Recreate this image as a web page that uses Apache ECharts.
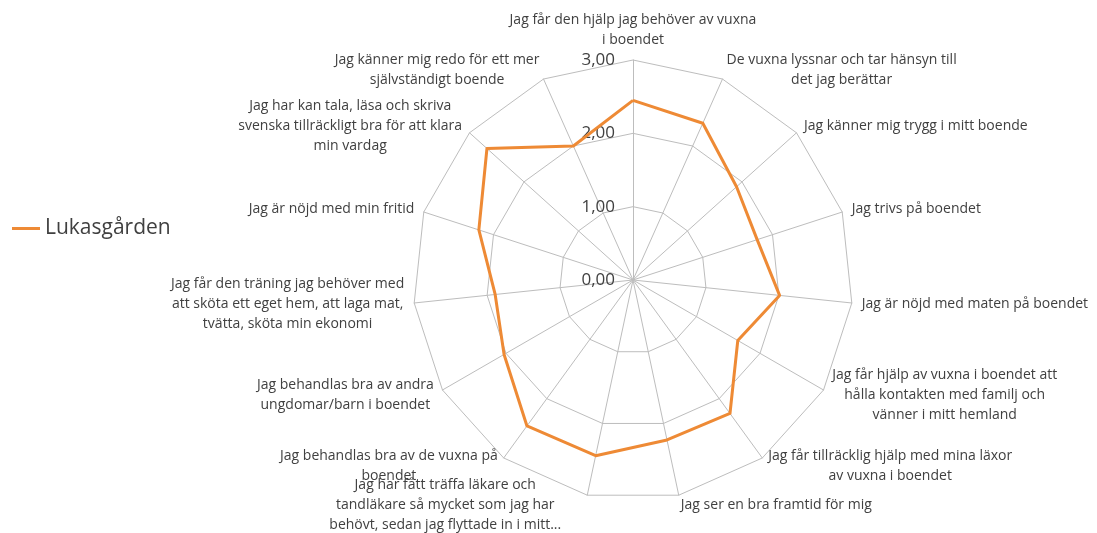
<!DOCTYPE html>
<html><head><meta charset="utf-8">
<script src="https://cdn.jsdelivr.net/npm/echarts@6/dist/echarts.min.js"></script>
<style>html,body{margin:0;padding:0;background:#fff}#c{width:1097px;height:533px}</style>
</head><body><div id="c"></div>
<script>
// Categories in clockwise order starting at the top
const categories = [
  "Jag får den hjälp jag behöver av vuxna\ni boendet",
  "De vuxna lyssnar och tar hänsyn till\ndet jag berättar",
  "Jag känner mig trygg i mitt boende",
  "Jag trivs på boendet",
  "Jag är nöjd med maten på boendet",
  "Jag får hjälp av vuxna i boendet att\nhålla kontakten med familj och\nvänner i mitt hemland",
  "Jag får tillräcklig hjälp med mina läxor\nav vuxna i boendet",
  "Jag ser en bra framtid för mig",
  "Jag har fått träffa läkare och\ntandläkare så mycket som jag har\nbehövt, sedan jag flyttade in i mitt...",
  "Jag behandlas bra av de vuxna på\nboendet",
  "Jag behandlas bra av andra\nungdomar/barn i boendet",
  "Jag får den träning jag behöver med\natt sköta ett eget hem, att laga mat,\ntvätta, sköta min ekonomi",
  "Jag är nöjd med min fritid",
  "Jag har kan tala, läsa och skriva\nsvenska tillräckligt bra för att klara\nmin vardag",
  "Jag känner mig redo för ett mer\nsjälvständigt boende"
];
const seriesName = "Lukasgården";
const values = [2.45, 2.34, 1.90, 1.78, 2.01, 1.65, 2.25, 2.23, 2.45, 2.46, 2.03, 1.89, 2.21, 2.68, 2.00];
const tickLabels = ["0,00", "1,00", "2,00", "3,00"];
const axisMin = 0;
const axisMax = 3;

// ECharts radar runs counter-clockwise; reorder so the chart reads clockwise
const order = [0];
for (let i = categories.length - 1; i >= 1; i--) order.push(i);

const textColor = '#404040';
const gridColor = '#bdbdbd';
const FONT = 'Open Sans';

const indicator = order.map((idx, j) => {
  const ind = { name: categories[idx], min: axisMin, max: axisMax };
  if (j === 0) {
    ind.axisLabel = {
      show: true,
      margin: 18,
      fontFamily: FONT,
      fontSize: 17,
      color: textColor,
      formatter: (v) => tickLabels[Math.round(v)]
    };
  }
  return ind;
});

// the label of the 9th category sits further left in the original
const shiftedName = categories[8];

const chart = echarts.init(document.getElementById('c'), null, { renderer: 'canvas' });
chart.setOption({
  backgroundColor: '#ffffff',
  animation: false,
  legend: {
    left: 7,
    top: 213,
    orient: 'vertical',
    icon: 'rect',
    itemWidth: 28,
    itemHeight: 3,
    textStyle: { fontFamily: FONT, fontSize: 21, color: textColor },
    data: [seriesName]
  },
  radar: {
    center: [633, 280],
    radius: 220,
    startAngle: 90,
    shape: 'polygon',
    splitNumber: 3,
    nameGap: 10,
    axisName: {
      color: textColor,
      fontFamily: FONT,
      fontSize: 14,
      lineHeight: 20,
      formatter: (name) => name.split('\n').map(l => '{c|' + l + '}' + (name === shiftedName ? '{sp|}' : '')).join('\n'),
      rich: {
        c: { align: 'center', fontFamily: FONT, fontSize: 14, lineHeight: 20, color: textColor },
        sp: { align: 'right', width: 24, lineHeight: 20 }
      }
    },
    axisLine: { lineStyle: { color: gridColor, width: 1 } },
    splitLine: { lineStyle: { color: gridColor, width: 1 } },
    splitArea: { show: false },
    axisTick: { show: false },
    axisLabel: { show: false },
    indicator: indicator
  },
  series: [{
    type: 'radar',
    name: seriesName,
    symbol: 'none',
    lineStyle: { color: '#ee8a35', width: 3 },
    itemStyle: { color: '#ee8a35' },
    data: [{ name: seriesName, value: order.map(i => values[i]) }]
  }]
});
</script>
</body></html>
